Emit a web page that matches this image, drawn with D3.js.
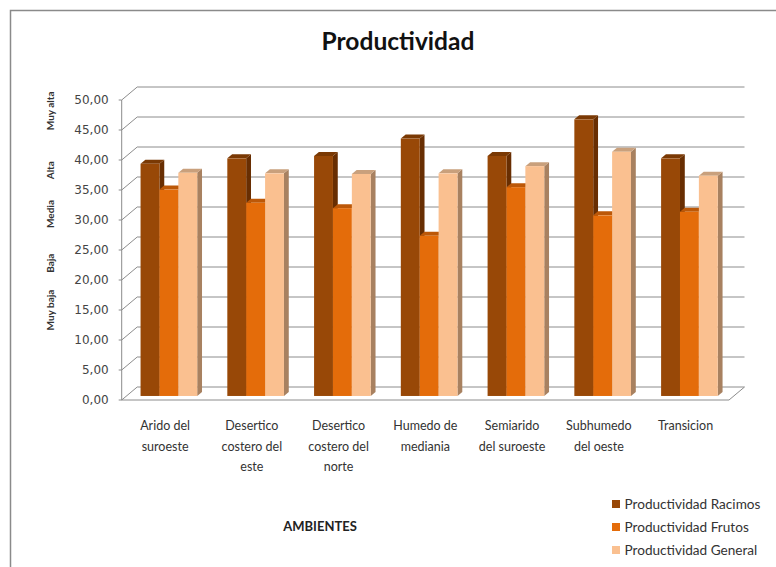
<!DOCTYPE html>
<html>
<head>
<meta charset="utf-8">
<script src="https://cdn.jsdelivr.net/npm/d3@7"></script>
<style>
  html, body { margin: 0; padding: 0; background: #fff; }
  svg { display: block; font-family: Lato, "Open Sans", sans-serif; }
</style>
</head>
<body>
<svg id="chart" width="776" height="567"></svg>
<script>
// Productividad por ambiente: three series per ambiente
const ambientes = [
  ["Arido del", "suroeste"],
  ["Desertico", "costero del", "este"],
  ["Desertico", "costero del", "norte"],
  ["Humedo de", "mediania"],
  ["Semiarido", "del suroeste"],
  ["Subhumedo", "del oeste"],
  ["Transicion"]
];
const series = ["Productividad Racimos", "Productividad Frutos", "Productividad General"];
const racimos = [38.7, 39.6, 40.0, 42.9, 40.0, 46.1, 39.6];
const frutos  = [34.4, 32.2, 31.3, 26.7, 34.8, 30.1, 30.7];
const general = [37.2, 37.1, 37.0, 37.1, 38.3, 40.7, 36.7];
const yTicks = [0, 5, 10, 15, 20, 25, 30, 35, 40, 45, 50];
// qualitative levels written along the value axis
const niveles = ["Muy alta", "Alta", "Media", "Baja", "Muy baja"];
const nivelValor = [48.2, 38.3, 31.0, 22.8, 15.0];

const values = [racimos, frutos, general];
const colors = {
  front: ["#984807", "#E46C0A", "#FAC090"],
  side:  ["#682e02", "#a84f06", "#a88160"],
  top:   ["#7a3904", "#bc5808", "#c9a07c"]
};

const svg = d3.select("#chart");

// outer frame
svg.append("rect")
  .attr("x", 10.5).attr("y", 10.5).attr("width", 900).attr("height", 700)
  .attr("fill", "none").attr("stroke", "#8a8a8a").attr("stroke-width", 1.5);

// 3D projection: front plane plus a depth offset toward the back wall
const depth = { dx: 15.5, dy: -13 };
const barZ0 = 0.31, barZ1 = 0.62;   // bar depth as fraction of floor depth

const left = 121.7, right = 729;
const y = d3.scaleLinear().domain([0, 50]).range([400, 100]);
const x0 = d3.scaleBand().domain(d3.range(ambientes.length)).range([left, right]).padding(0);
const bw = x0.bandwidth();
const x1 = d3.scaleBand().domain(d3.range(series.length)).range([0.162 * bw, 0.815 * bw]).padding(0);

const proj = (px, v, z) => [px + depth.dx * z, y(v) + depth.dy * z];

// back-wall gridlines and side-wall slants
const grid = svg.append("g").attr("stroke", "#8c8c8c").attr("stroke-width", 1).attr("fill", "none");
yTicks.forEach(t => {
  const a = proj(left, t, 0), b = proj(left, t, 1), c = proj(right, t, 1);
  grid.append("path").attr("d", `M${a[0] - 3},${a[1]}L${a[0]},${a[1]}L${b[0]},${b[1]}L${c[0]},${c[1]}`);
});
// floor outline
{
  const a = proj(left, 0, 0), b = proj(right, 0, 0), c = proj(right, 0, 1);
  grid.append("path").attr("d", `M${a[0]},${a[1]}L${b[0]},${b[1]}L${c[0]},${c[1]}`);
}
// value axis line
grid.append("line")
  .attr("x1", left).attr("x2", left).attr("y1", y(50)).attr("y2", y(0));

// tick labels with comma decimals
const fmt = d3.formatLocale({ decimal: ",", thousands: ".", grouping: [3], currency: ["", ""] }).format(".2f");
svg.append("g").selectAll("text").data(yTicks).join("text")
  .attr("x", left - 13).attr("y", d => y(d)).attr("dy", "0.36em")
  .attr("text-anchor", "end").attr("font-size", 12).attr("fill", "#444")
  .attr("font-family", "'DejaVu Sans', sans-serif")
  .text(d => fmt(d));

// level labels, rotated
svg.append("g").selectAll("text").data(niveles).join("text")
  .attr("transform", (d, i) => `translate(53.5,${y(nivelValor[i])}) rotate(-90)`)
  .attr("text-anchor", "middle").attr("font-size", 10).attr("font-weight", "bold").attr("fill", "#333")
  .text(d => d);

// 3D bars
const bars = svg.append("g");
ambientes.forEach((amb, i) => {
  series.forEach((s, k) => {
    const v = values[k][i];
    const xl = x0(i) + x1(k), xr = xl + x1.bandwidth();
    const fl0 = proj(xl, 0, barZ0), fr0 = proj(xr, 0, barZ0);
    const flT = proj(xl, v, barZ0), frT = proj(xr, v, barZ0);
    const blT = proj(xl, v, barZ1), brT = proj(xr, v, barZ1), br0 = proj(xr, 0, barZ1);
    const g = bars.append("g");
    // side face
    g.append("path")
      .attr("d", `M${fr0}L${frT}L${brT}L${br0}Z`)
      .attr("fill", colors.side[k]);
    // top face
    g.append("path")
      .attr("d", `M${flT}L${frT}L${brT}L${blT}Z`)
      .attr("fill", colors.top[k]);
    // front face
    g.append("rect")
      .attr("x", flT[0]).attr("y", flT[1])
      .attr("width", frT[0] - flT[0]).attr("height", fl0[1] - flT[1])
      .attr("fill", colors.front[k]);
  });
});

// category labels
const cat = svg.append("g").attr("font-size", 12.5).attr("fill", "#333").attr("text-anchor", "middle");
ambientes.forEach((lines, i) => {
  const t = cat.append("text").attr("x", x0(i) + bw / 2).attr("y", 430);
  lines.forEach((ln, j) => {
    t.append("tspan").attr("x", x0(i) + bw / 2).attr("dy", j === 0 ? 0 : 20.5).text(ln);
  });
});

// title
const title = svg.append("text")
  .attr("x", 398).attr("y", 49.5).attr("text-anchor", "middle")
  .attr("font-size", 24).attr("font-weight", "bold").attr("fill", "#111")
  .text("Productividad");
{
  const w = title.node().getComputedTextLength();
  title.attr("font-size", 24 * 153 / w);
}

// axis title
svg.append("text")
  .attr("x", 320).attr("y", 530.5).attr("text-anchor", "middle")
  .attr("font-size", 13).attr("font-weight", "bold").attr("fill", "#222")
  .text("AMBIENTES");

// legend
const legend = svg.append("g").selectAll("g").data(series).join("g")
  .attr("transform", (d, i) => `translate(612,${504 + i * 23})`);
legend.append("rect").attr("x", 0).attr("y", -4).attr("width", 8).attr("height", 8)
  .attr("fill", (d, i) => colors.front[i]);
legend.append("text").attr("x", 12.5).attr("y", 0).attr("dy", "0.35em")
  .attr("font-size", 13.6).attr("fill", "#333").text(d => d);
</script>
</body>
</html>
